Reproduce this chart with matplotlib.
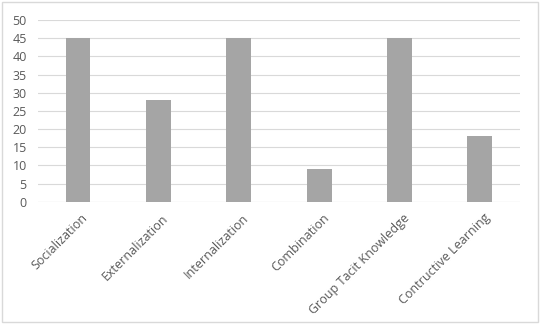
import matplotlib
matplotlib.use('Agg')
import matplotlib.pyplot as plt
import numpy as np

categories = ['Socialization', 'Externalization', 'Internalization',
              'Combination', 'Group Tacit Knowledge', 'Contructive Learning']
values = [45, 28, 45, 9, 45, 18]

txt = '#595959'

fig = plt.figure(figsize=(5.4, 3.24), dpi=100)
ax = fig.add_axes([0.070, 0.377, 0.893, 0.561])

x = np.arange(len(categories))
ax.bar(x, values, width=0.31, color='#a5a5a5', zorder=3)

ax.set_xlim(-0.5, len(categories) - 0.5)
ax.set_ylim(0, 50)
ax.set_yticks(range(0, 51, 5))
ax.grid(axis='y', color='#d9d9d9', linewidth=0.8, zorder=0)
for s in ax.spines.values():
    s.set_visible(False)
ax.axhline(0, color='#d9d9d9', linewidth=0.8, zorder=2)

ax.set_xticks(x + 0.04)
ax.set_xticklabels(categories, rotation=45, ha='right', rotation_mode='anchor',
                   fontfamily='Open Sans', fontsize=9, color=txt)
ax.tick_params(axis='both', length=0, colors=txt, labelsize=9)
for lab in ax.get_yticklabels():
    lab.set_fontfamily('Open Sans')
ax.tick_params(axis='x', pad=7)
ax.tick_params(axis='y', pad=8)

# light frame around the chart area
fig.patches.append(plt.Rectangle((0.003, 0.005), 0.994, 0.99, transform=fig.transFigure,
                                 fill=False, edgecolor='#d9d9d9', linewidth=1))

fig.savefig('out.png', dpi=100)
